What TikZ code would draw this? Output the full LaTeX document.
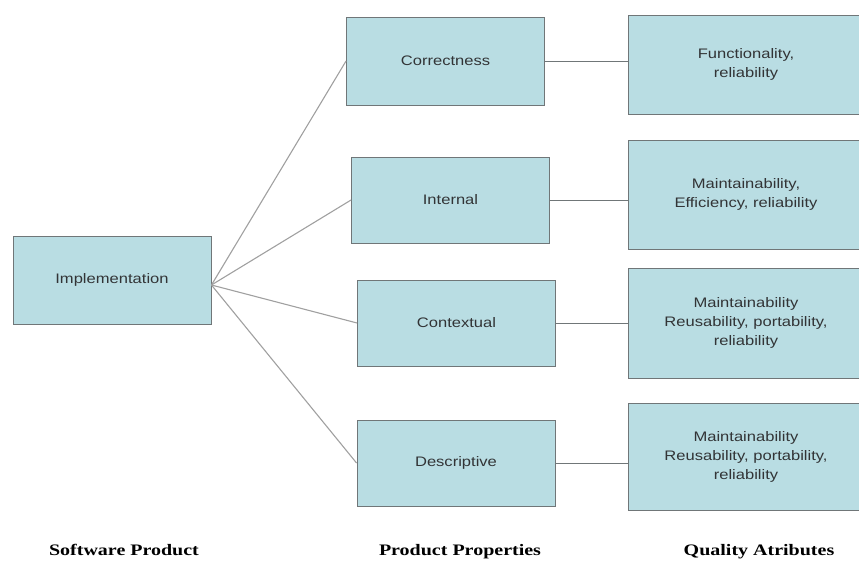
\documentclass[tikz,border=0pt]{standalone}
\usepackage{fontspec}
\newfontfamily\boxfont[FakeStretch=1.2]{Liberation Sans}
\newfontfamily\capfont[FakeStretch=1.25]{Liberation Serif}
\definecolor{boxblue}{RGB}{185,221,227}
\definecolor{boxline}{RGB}{112,118,120}
\definecolor{linkgray}{RGB}{160,160,160}
\definecolor{textgray}{RGB}{50,52,54}
\begin{document}
\begin{tikzpicture}[x=1pt, y=-1pt,
			base box/.style={fill=boxblue, draw=boxline, line width=0.9pt, align=center,
				font=\boxfont\fontsize{13.8}{19}\selectfont, text=textgray, inner sep=0pt},
			prop box/.style={base box, minimum width=198pt, minimum height=86pt},
			qual box/.style={base box, minimum width=236pt, text width=220pt},
			fan line/.style={linkgray, line width=1.1pt},
			link line/.style={boxline, line width=0.9pt},
			col label/.style={font=\capfont\bfseries\fontsize{16}{19}\selectfont}
			]
			\useasboundingbox (0,0) rectangle (859,568);
			% left and middle column
			\node[prop box, minimum height=88pt] (impl) at (112,280) {Implementation};
			\node[prop box, minimum height=88pt] (corr) at (445.5,61) {Correctness};
			\node[prop box] (intl) at (450.5,200) {Internal};
			\node[prop box] (ctxt) at (456.5,323) {Contextual};
			\node[prop box] (desc) at (456,463) {Descriptive};
			% right column
			\node[qual box, minimum height=99pt] (qual1) at (746,64.5) {Functionality,\\reliability};
			\node[qual box, minimum height=109pt] (qual2) at (746,194.5) {Maintainability,\\Efficiency, reliability};
			\node[qual box, minimum height=110pt] (qual3) at (746,323) {Maintainability\\Reusability, portability,\\reliability};
			\node[qual box, minimum height=107pt] (qual4) at (746,456.5) {Maintainability\\Reusability, portability,\\reliability};
			
			\coordinate (hub) at ([yshift=-5pt]impl.east);
			\foreach \p in {corr, intl, ctxt, desc}
				\draw[fan line] (hub) -- (\p.west);
			\foreach \p/\q in {corr/qual1, intl/qual2, ctxt/qual3, desc/qual4}
				\draw[link line] (\p.east) -- (\p.east -| \q.west);
			
			\node[col label] (lab1) at (124,550) {Software Product};
			\node[col label] (lab2) at (460,552) {Product Properties};
			\node[col label] (lab3) at (759,552) {Quality Atributes};
		\end{tikzpicture}
\end{document}
